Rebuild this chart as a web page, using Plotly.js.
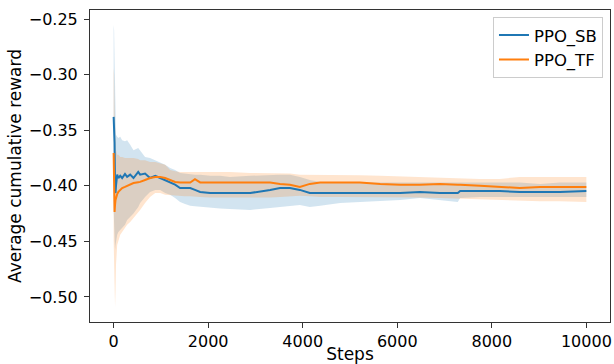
<!DOCTYPE html>
<html>
<head>
<meta charset="utf-8">
<script src="https://cdn.plot.ly/plotly-3.0.1.min.js"></script>
<style>html,body{margin:0;padding:0;background:#fff;}#chart{width:614px;height:364px;}</style>
</head>
<body>
<div id="chart"></div>
<script>
const steps = [0,10,20,30,40,50,75,100,140,180,240,285,350,420,520,560,665,770,880,985,1090,1195,1300,1405,1510,1620,1720,1830,2040,2250,2460,2890,3310,3520,3730,3940,4150,4370,4790,5210,5640,6060,6480,6900,7280,7330,7750,8170,8590,9020,9440,10000];

const sbMean = [-0.338,-0.345,-0.3615,-0.404,-0.4065,-0.400,-0.390,-0.393,-0.391,-0.393,-0.3894,-0.392,-0.390,-0.393,-0.3876,-0.390,-0.389,-0.393,-0.391,-0.393,-0.3948,-0.3965,-0.399,-0.402,-0.402,-0.402,-0.4037,-0.4055,-0.4065,-0.4065,-0.4065,-0.4065,-0.4037,-0.402,-0.402,-0.4037,-0.4065,-0.4065,-0.4065,-0.4065,-0.4065,-0.4065,-0.4055,-0.4065,-0.4065,-0.4047,-0.4047,-0.4047,-0.4055,-0.4055,-0.4055,-0.4047];
const sbUpper = [-0.2554,-0.260,-0.287,-0.323,-0.345,-0.354,-0.356,-0.357,-0.356,-0.359,-0.360,-0.359,-0.363,-0.368,-0.366,-0.368,-0.374,-0.375,-0.377,-0.3795,-0.381,-0.384,-0.3858,-0.3885,-0.389,-0.390,-0.390,-0.390,-0.391,-0.391,-0.392,-0.391,-0.390,-0.390,-0.390,-0.392,-0.3948,-0.3965,-0.397,-0.397,-0.397,-0.397,-0.397,-0.397,-0.397,-0.3965,-0.3965,-0.3965,-0.397,-0.3983,-0.397,-0.397];
const sbLower = [-0.4217,-0.4397,-0.4577,-0.4577,-0.453,-0.4487,-0.444,-0.4415,-0.4397,-0.438,-0.435,-0.4307,-0.428,-0.425,-0.419,-0.4154,-0.410,-0.4055,-0.4037,-0.4037,-0.4065,-0.408,-0.411,-0.4145,-0.4163,-0.418,-0.4185,-0.419,-0.420,-0.4205,-0.4208,-0.4217,-0.420,-0.419,-0.418,-0.4172,-0.419,-0.418,-0.4154,-0.4145,-0.4136,-0.4127,-0.411,-0.4127,-0.4145,-0.411,-0.410,-0.410,-0.410,-0.410,-0.410,-0.410];

const tfMean = [-0.3705,-0.390,-0.4235,-0.417,-0.4127,-0.411,-0.4075,-0.4055,-0.4037,-0.402,-0.401,-0.400,-0.399,-0.3975,-0.3968,-0.3965,-0.3948,-0.393,-0.392,-0.392,-0.393,-0.3948,-0.3965,-0.397,-0.397,-0.397,-0.394,-0.397,-0.397,-0.397,-0.397,-0.397,-0.397,-0.3983,-0.399,-0.401,-0.3983,-0.397,-0.397,-0.397,-0.3983,-0.399,-0.399,-0.3983,-0.399,-0.399,-0.400,-0.401,-0.402,-0.401,-0.401,-0.401];
const tfUpper = [-0.294,-0.300,-0.332,-0.354,-0.362,-0.368,-0.372,-0.372,-0.374,-0.374,-0.375,-0.375,-0.375,-0.375,-0.376,-0.377,-0.377,-0.3786,-0.3786,-0.3795,-0.381,-0.3858,-0.387,-0.3875,-0.3875,-0.3875,-0.3875,-0.3875,-0.3875,-0.3875,-0.3875,-0.3885,-0.3885,-0.389,-0.389,-0.390,-0.390,-0.390,-0.3905,-0.3905,-0.391,-0.3915,-0.392,-0.393,-0.3935,-0.3935,-0.3938,-0.3938,-0.392,-0.392,-0.392,-0.392];
const tfLower = [-0.4487,-0.4757,-0.5026,-0.509,-0.4936,-0.4711,-0.4532,-0.4487,-0.444,-0.4415,-0.438,-0.435,-0.4325,-0.429,-0.424,-0.4217,-0.4154,-0.410,-0.4065,-0.4065,-0.408,-0.4085,-0.409,-0.409,-0.4095,-0.4095,-0.410,-0.410,-0.4105,-0.4105,-0.411,-0.411,-0.4105,-0.410,-0.4095,-0.409,-0.4095,-0.410,-0.410,-0.410,-0.410,-0.4105,-0.4105,-0.411,-0.4115,-0.4115,-0.412,-0.413,-0.4136,-0.414,-0.414,-0.4145];

const seriesNames = ['PPO_SB','PPO_TF'];
const xTicks = [0,2000,4000,6000,8000,10000];
const yTicks = [-0.50,-0.45,-0.40,-0.35,-0.30,-0.25];

const blue = '#1f77b4', orange = '#ff7f0e';
const blueFill = 'rgba(31,119,180,0.2)', orangeFill = 'rgba(255,127,14,0.2)';

const traces = [
  {x: steps, y: sbLower, mode: 'lines', line: {width: 0, color: blue}, showlegend: false, hoverinfo: 'skip'},
  {x: steps, y: sbUpper, mode: 'lines', line: {width: 0, color: blue}, fill: 'tonexty', fillcolor: blueFill, showlegend: false, hoverinfo: 'skip'},
  {x: steps, y: tfLower, mode: 'lines', line: {width: 0, color: orange}, showlegend: false, hoverinfo: 'skip'},
  {x: steps, y: tfUpper, mode: 'lines', line: {width: 0, color: orange}, fill: 'tonexty', fillcolor: orangeFill, showlegend: false, hoverinfo: 'skip'},
  {x: steps, y: sbMean, mode: 'lines', name: seriesNames[0], line: {color: blue, width: 2}},
  {x: steps, y: tfMean, mode: 'lines', name: seriesNames[1], line: {color: orange, width: 2}}
];

const layout = {
  width: 614, height: 364,
  margin: {l: 90, r: 4, t: 10, b: 42},
  paper_bgcolor: '#fff', plot_bgcolor: '#fff',
  font: {family: 'DejaVu Sans', size: 16, color: '#000'},
  showlegend: true,
  legend: {x: 0.9865, xanchor: 'right', y: 0.978, yanchor: 'top', traceorder: 'normal',
    bordercolor: '#cccccc', borderwidth: 1, bgcolor: 'rgba(255,255,255,0.8)',
    font: {family: 'DejaVu Sans', size: 16.5}, tracegroupgap: 0},
  xaxis: {
    range: [-500, 10500], tickvals: xTicks, ticktext: xTicks.map(String),
    showgrid: false, zeroline: false, showline: true, mirror: true,
    linecolor: '#333', linewidth: 1, ticks: 'outside', ticklen: 5, tickcolor: '#333',
    title: {text: 'Steps', font: {family: 'DejaVu Sans', size: 17}, standoff: 0}
  },
  yaxis: {
    range: [-0.5225, -0.2419], tickvals: yTicks, tickformat: '.2f',
    showgrid: false, zeroline: false, showline: true, mirror: true,
    linecolor: '#333', linewidth: 1, ticks: 'outside', ticklen: 5, tickcolor: '#333',
    ticklabelstandoff: 3,
    title: {text: 'Average cumulative reward', font: {family: 'DejaVu Sans', size: 17}, standoff: 2}
  }
};

Plotly.newPlot('chart', traces, layout, {staticPlot: true, displayModeBar: false});
</script>
</body>
</html>
